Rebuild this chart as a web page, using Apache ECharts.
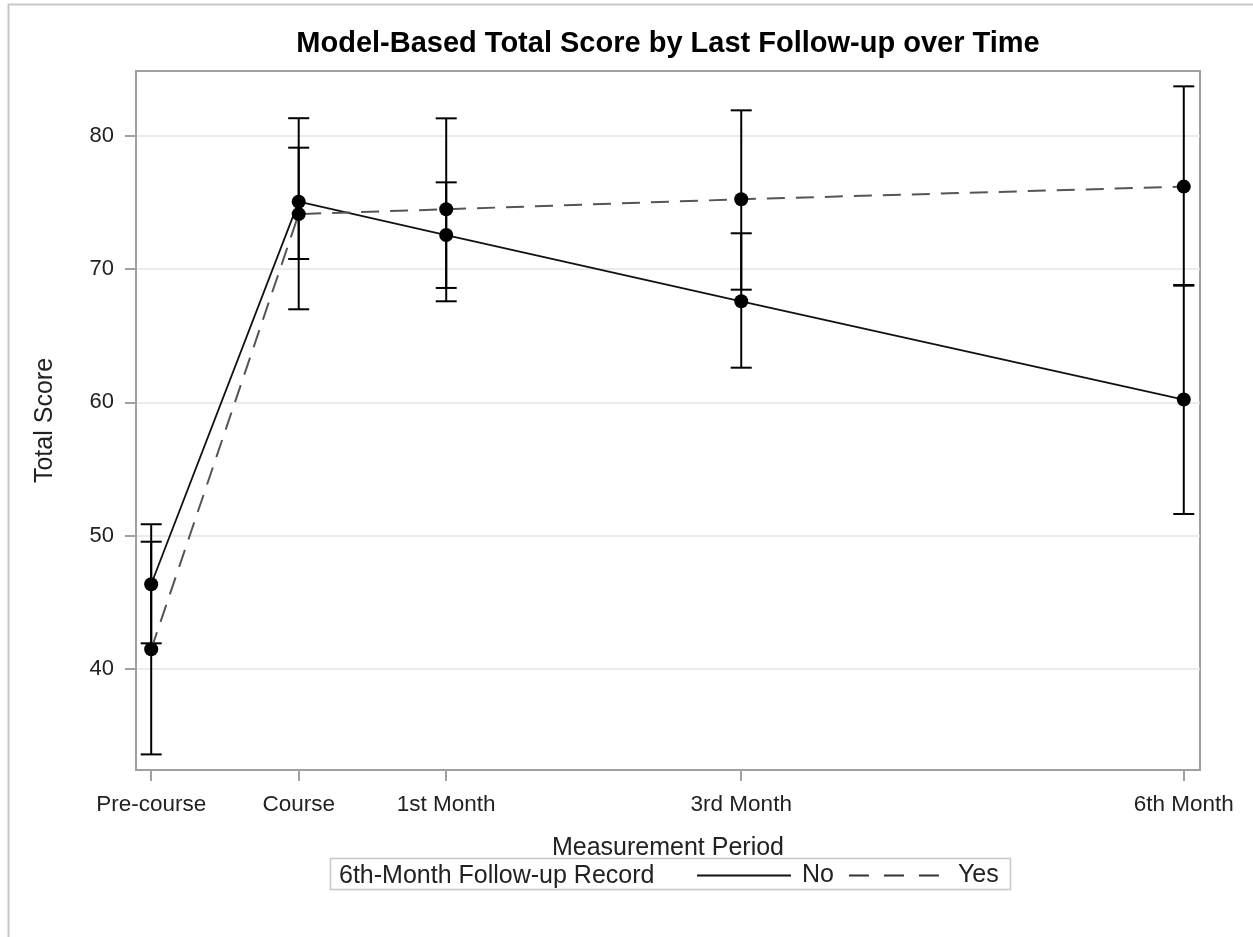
<!DOCTYPE html>
<html>
<head>
<meta charset="utf-8">
<script src="https://cdn.jsdelivr.net/npm/echarts@6/dist/echarts.min.js"></script>
<style>
  html, body { margin: 0; padding: 0; background: #fff; }
  #chart { width: 1253px; height: 937px; }
</style>
</head>
<body>
<div id="chart"></div>
<script>
// ---- data ----
var periodLabels = ['Pre-course', 'Course', '1st Month', '3rd Month', '6th Month'];
var periodX = [-1, 0, 1, 3, 6];
var yTicks = [40, 50, 60, 70, 80];

var noMean  = [46.36, 75.05, 72.55, 67.58, 60.21];
var noLow   = [41.93, 70.75, 68.58, 62.60, 51.63];
var noHigh  = [50.86, 79.10, 76.50, 72.68, 68.80];

var yesMean = [41.48, 74.12, 74.48, 75.23, 76.18];
var yesLow  = [33.60, 66.98, 67.58, 68.45, 68.75];
var yesHigh = [49.55, 81.31, 81.30, 81.90, 83.70];

var legendTitle = '6th-Month Follow-up Record';
var seriesNames = ['No', 'Yes'];

// ---- build ----
var FONT = '"Liberation Sans", Arial, Helvetica, sans-serif';
function pts(mean) { return periodX.map(function (x, i) { return [x, mean[i]]; }); }
function bars(low, high) { return periodX.map(function (x, i) { return [x, low[i], high[i]]; }); }

function errRender(params, api) {
  var x = api.value(0);
  var lo = api.coord([x, api.value(1)]);
  var hi = api.coord([x, api.value(2)]);
  var hw = 10.5;
  var st = { stroke: '#000', lineWidth: 2 };
  return {
    type: 'group',
    children: [
      { type: 'line', shape: { x1: lo[0], y1: lo[1], x2: hi[0], y2: hi[1] }, style: st },
      { type: 'line', shape: { x1: lo[0] - hw, y1: lo[1], x2: lo[0] + hw, y2: lo[1] }, style: st },
      { type: 'line', shape: { x1: hi[0] - hw, y1: hi[1], x2: hi[0] + hw, y2: hi[1] }, style: st }
    ]
  };
}

var chart = echarts.init(document.getElementById('chart'), null, { renderer: 'canvas' });
var axisGray = '#a0a0a0';
chart.setOption({
  animation: false,
  backgroundColor: '#fff',
  title: {
    text: 'Model-Based Total Score by Last Follow-up over Time',
    left: 668, top: 29, padding: 0, textAlign: 'center',
    textStyle: { fontFamily: FONT, fontSize: 29, fontWeight: 'bold', color: '#000' }
  },
  grid: {
    left: 136, right: 53, top: 71, bottom: 167,
    show: true, borderColor: axisGray, borderWidth: 2, containLabel: false
  },
  xAxis: {
    type: 'value', min: -1.103, max: 6.110,
    name: 'Measurement Period', nameLocation: 'middle', nameGap: 66,
    nameTextStyle: { fontFamily: FONT, fontSize: 25, color: '#222' },
    axisLine: { show: true, onZero: false, lineStyle: { color: axisGray, width: 2 } },
    axisTick: { show: true, length: 11, customValues: periodX, lineStyle: { color: axisGray, width: 2 } },
    axisLabel: {
      customValues: periodX, fontFamily: FONT, fontSize: 22.5, color: '#222', margin: 23,
      formatter: function (v) { var i = periodX.indexOf(v); return i >= 0 ? periodLabels[i] : ''; }
    },
    splitLine: { show: false }
  },
  yAxis: {
    type: 'value', min: 32.43, max: 84.85,
    name: 'Total Score', nameLocation: 'middle', nameGap: 78,
    nameTextStyle: { fontFamily: FONT, fontSize: 25, color: '#222' },
    axisLine: { show: true, onZero: false, lineStyle: { color: axisGray, width: 2 } },
    axisTick: { show: true, length: 11, customValues: yTicks, lineStyle: { color: axisGray, width: 2 } },
    axisLabel: { customValues: yTicks, fontFamily: FONT, fontSize: 22, color: '#222', margin: 22 },
    splitLine: { show: true, lineStyle: { color: '#e4e4e4', width: 1.5 } }
  },
  legend: {
    data: [
      { name: seriesNames[0], lineStyle: { color: '#111', width: 2 } },
      { name: seriesNames[1], lineStyle: { color: '#333', width: 2, type: [20, 15] }, textStyle: { padding: [0, 0, 0, 10] } }
    ],
    left: 696, top: 863,
    itemWidth: 94, itemHeight: 14, itemGap: 14,
    padding: 0,
    itemStyle: { opacity: 0 },
    textStyle: { fontFamily: FONT, fontSize: 25, color: '#222', padding: [0, 0, 0, 6] }
  },
  graphic: [
    { type: 'rect', shape: { x: 8.5, y: 4.5, width: 1400, height: 1100 }, style: { fill: 'none', stroke: '#c8c8c8', lineWidth: 2 }, silent: true },
    { type: 'rect', shape: { x: 330.5, y: 858.5, width: 680, height: 31 }, style: { fill: 'none', stroke: '#c8c8c8', lineWidth: 1.5 }, silent: true },
    { type: 'text', x: 339, y: 876, style: { text: legendTitle, font: '25px ' + FONT, fill: '#222', verticalAlign: 'middle' }, silent: true }
  ],
  series: [
    { type: 'custom', name: 'No CI', renderItem: errRender, data: bars(noLow, noHigh), encode: { x: 0, y: [1, 2] }, z: 2 },
    { type: 'custom', name: 'Yes CI', renderItem: errRender, data: bars(yesLow, yesHigh), encode: { x: 0, y: [1, 2] }, z: 2 },
    { type: 'line', name: 'No', data: pts(noMean), symbol: 'none', lineStyle: { color: '#111', width: 1.8, type: 'solid' }, itemStyle: { color: '#111' }, z: 3 },
    { type: 'line', name: 'Yes', data: pts(yesMean), symbol: 'none', lineStyle: { color: '#555', width: 2, type: [18, 11] }, itemStyle: { color: '#555' }, z: 3 },
    { type: 'scatter', name: 'No pts', data: pts(noMean), symbol: 'circle', symbolSize: 14, itemStyle: { color: '#000', opacity: 1 }, z: 4 },
    { type: 'scatter', name: 'Yes pts', data: pts(yesMean), symbol: 'circle', symbolSize: 14, itemStyle: { color: '#000', opacity: 1 }, z: 4 }
  ]
});
</script>
</body>
</html>
